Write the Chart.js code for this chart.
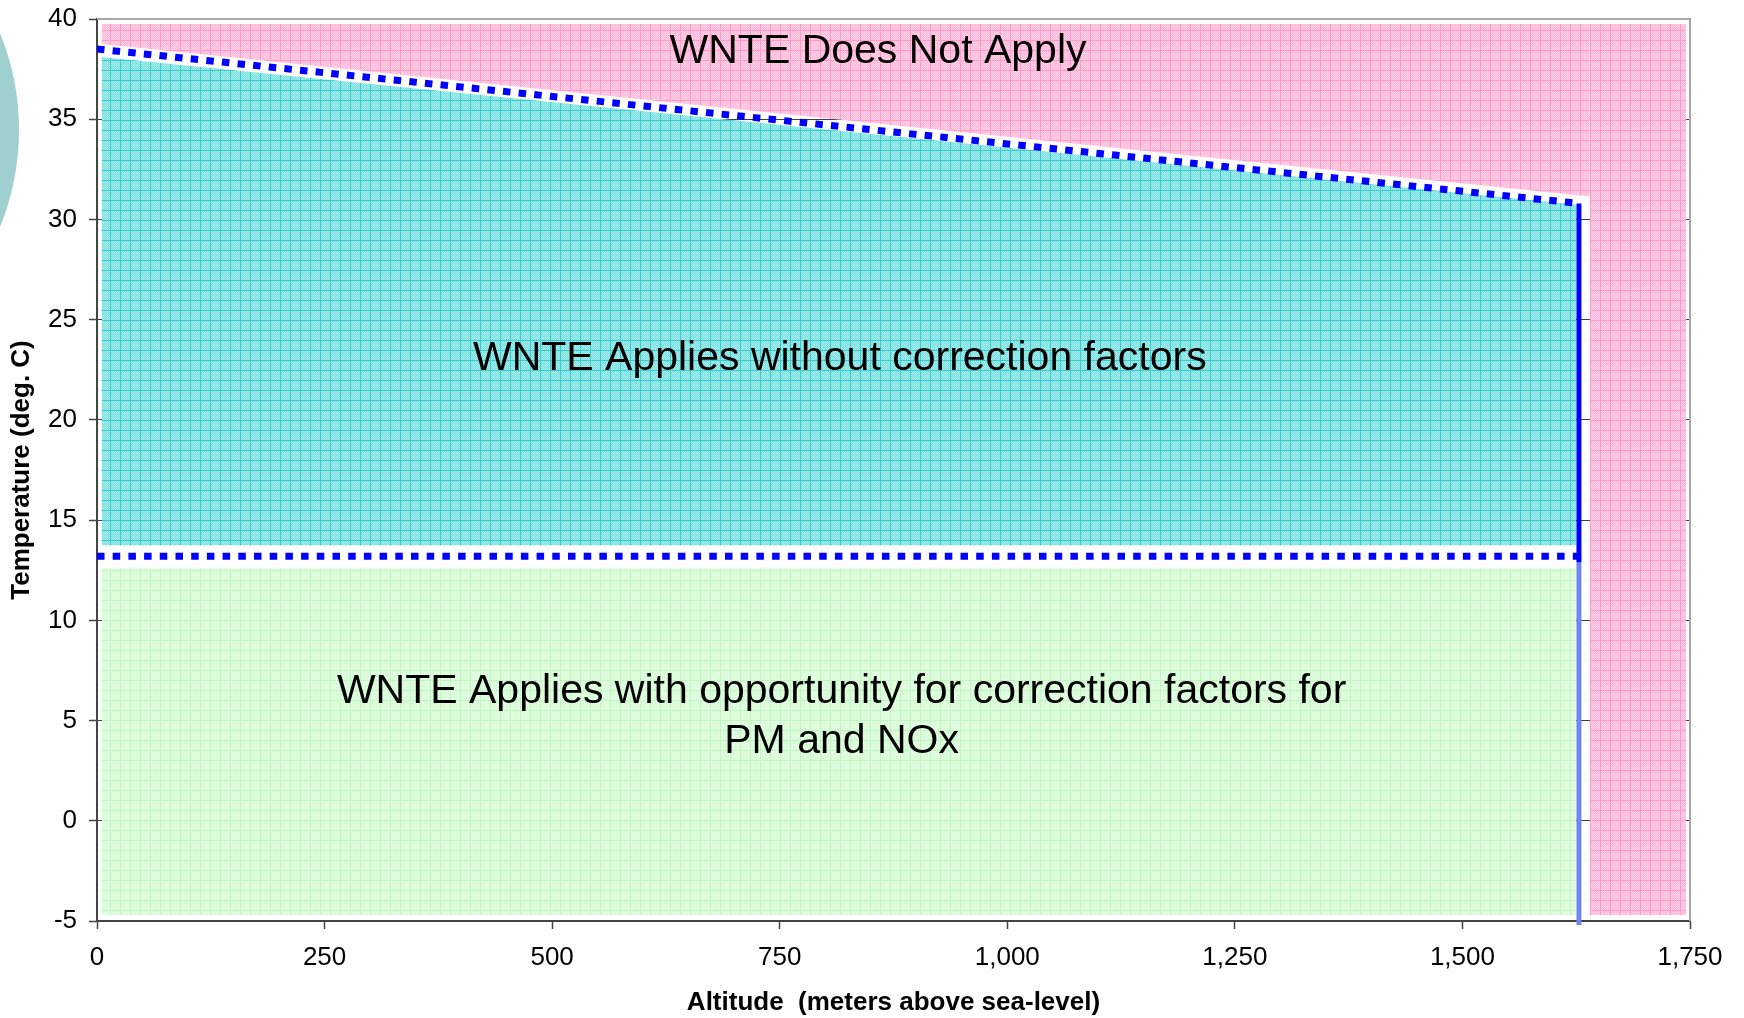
<!DOCTYPE html>
<html><head><meta charset="utf-8">
<script src="https://cdn.jsdelivr.net/npm/chart.js@4"></script>
<style>html,body{margin:0;padding:0;background:#fff;}canvas{display:block;}</style>
</head><body>
<canvas id="c" width="1744" height="1018"></canvas>
<script>
// ---- tick labels ----
const xTickValues = [0, 250, 500, 750, 1000, 1250, 1500, 1750];
const xTickLabels = ['0', '250', '500', '750', '1,000', '1,250', '1,500', '1,750'];
const yTickValues = [-5, 0, 5, 10, 15, 20, 25, 30, 35, 40];
const yTickLabels = ['-5', '0', '5', '10', '15', '20', '25', '30', '35', '40'];

// ---- boundary lines (altitude m, temperature deg C) ----
const boundaryAltitude = [0, 1628];
const upperTempLimit = [38.5, 30.8];
const lowerTempLimit = [13.2, 13.2];
const altitudeLimit = [1628, 1628];
const altitudeLimitUpperTemp = [30.8, 12.9];
const altitudeLimitLowerTemp = [12.9, -5.2];

// ---- shaded regions ----
const pinkUpperAlt = [5, 1640];
const pinkUpperBottom = [38.75, 31.15];
const pinkTopTemp = 39.75;
const pinkRightAlt = [1640, 1746];
const pinkRightTop = [39.75, 39.75];
const regionBottomTemp = -4.7;
const tealAlt = [5, 1625];
const tealTopTemp = [38.1, 30.75];
const tealBottomTemp = 13.75;
const greenAlt = [5, 1625];
const greenTopTemp = [12.6, 12.6];

const regionLabels = [
  { lines: ['WNTE Does Not Apply'], x: 858, y: 38.35 },
  { lines: ['WNTE Applies without correction factors'], x: 816, y: 23.03 },
  { lines: ['WNTE Applies with opportunity for correction factors for', 'PM and NOx'], x: 818, y: 5.18 }
];

const pts = (xs, ys) => xs.map((x, i) => ({ x: x, y: ys[i] }));

function makePattern(base, speck, line) {
  const c = document.createElement('canvas');
  c.width = 10; c.height = 10;
  const g = c.getContext('2d');
  g.fillStyle = base; g.fillRect(0, 0, 10, 10);
  g.fillStyle = speck;
  for (let i = 1; i < 10; i++) for (let j = 1; j < 10; j++) if ((i + j) % 2 === 0) g.fillRect(i, j, 1, 1);
  g.fillStyle = line;
  g.fillRect(0, 0, 10, 1); g.fillRect(0, 0, 1, 10);
  return g.createPattern(c, 'repeat');
}
const pinkPat = makePattern('#ffb8da', '#ffd2e8', '#ff9ccc');
const tealPat = makePattern('#7cdfdf', '#a6eeee', '#38cccc');
const greenPat = makePattern('#d6fcd6', '#e4ffe4', '#c4f4c4');

const FONT = "'Liberation Sans', Arial, Helvetica, sans-serif";

const fillDs = (data, bg, fill) => ({
  data: data, backgroundColor: bg, borderWidth: 0, borderColor: 'rgba(0,0,0,0)',
  pointRadius: 0, fill: fill, order: 10, tension: 0
});

const decorPlugin = {
  id: 'decor',
  beforeDraw(chart) {
    const ctx = chart.ctx;
    ctx.save();
    ctx.fillStyle = '#9fcfcf';
    ctx.beginPath();
    ctx.arc(-238, 130, 257, 0, Math.PI * 2);
    ctx.fill();
    ctx.restore();
  },
  afterDatasetsDraw(chart) {
    const ctx = chart.ctx, xs = chart.scales.x, ys = chart.scales.y;
    ctx.save();
    ctx.fillStyle = '#000';
    ctx.font = '41px ' + FONT;
    ctx.textAlign = 'center';
    ctx.textBaseline = 'middle';
    regionLabels.forEach(l => {
      const px = xs.getPixelForValue(l.x);
      const py = ys.getPixelForValue(l.y);
      const lh = 50;
      const start = py - (l.lines.length - 1) * lh / 2;
      l.lines.forEach((t, i) => ctx.fillText(t, px, start + i * lh));
    });
    ctx.restore();
  },
  afterDraw(chart) {
    const ctx = chart.ctx, a = chart.chartArea;
    ctx.save();
    ctx.strokeStyle = '#a6a6a6';
    ctx.lineWidth = 2;
    ctx.beginPath();
    ctx.moveTo(a.left, a.top); ctx.lineTo(a.right, a.top); ctx.lineTo(a.right, a.bottom);
    ctx.stroke();
    ctx.restore();
  }
};

new Chart(document.getElementById('c'), {
  type: 'line',
  data: {
    datasets: [
      // boundary lines
      { data: pts(boundaryAltitude, upperTempLimit), borderColor: '#0000ff', borderWidth: 7,
        borderDash: [7.5, 8.2], borderCapStyle: 'butt', pointRadius: 0, fill: false, order: 1 },
      { data: pts(boundaryAltitude, lowerTempLimit), borderColor: '#0000ff', borderWidth: 7,
        borderDash: [7.5, 8.2], borderCapStyle: 'butt', pointRadius: 0, fill: false, order: 1 },
      { data: pts(altitudeLimit, altitudeLimitUpperTemp), borderColor: '#0000ff', borderWidth: 5,
        pointRadius: 0, fill: false, order: 0, clip: false },
      { data: pts(altitudeLimit, altitudeLimitLowerTemp), borderColor: '#6f86f0', borderWidth: 5,
        pointRadius: 0, fill: false, order: 0, clip: false },
      // regions
      fillDs(pts(pinkUpperAlt, pinkUpperBottom), pinkPat, { value: pinkTopTemp }),
      fillDs(pts(pinkRightAlt, pinkRightTop), pinkPat, { value: regionBottomTemp }),
      fillDs(pts(tealAlt, tealTopTemp), tealPat, { value: tealBottomTemp }),
      fillDs(pts(greenAlt, greenTopTemp), greenPat, { value: regionBottomTemp })
    ]
  },
  options: {
    responsive: false,
    animation: false,
    devicePixelRatio: 1,
    layout: { padding: { top: 19, right: 54, left: 0, bottom: 0 } },
    plugins: { legend: { display: false }, tooltip: { enabled: false } },
    scales: {
      x: {
        type: 'linear', min: 0, max: 1750,
        afterBuildTicks: s => { s.ticks = xTickValues.map(v => ({ value: v })); },
        afterFit: s => { s.height = 97; s.paddingLeft = 0; s.paddingRight = 0; },
        ticks: {
          callback: (v) => xTickLabels[xTickValues.indexOf(v)],
          font: { family: FONT, size: 26 }, color: '#000', padding: 13, maxRotation: 0, autoSkip: false
        },
        grid: { drawOnChartArea: false, drawTicks: true, tickLength: 8, tickColor: '#444', tickWidth: 1.5 },
        border: { color: '#444', width: 2 },
        title: { display: true, text: 'Altitude  (meters above sea-level)', color: '#000',
          font: { family: FONT, size: 26, weight: 'bold' }, padding: { top: 0, bottom: 0 } }
      },
      y: {
        type: 'linear', min: -5, max: 40, z: 1,
        afterBuildTicks: s => { s.ticks = yTickValues.map(v => ({ value: v })); },
        afterFit: s => { s.width = 97; s.paddingTop = 0; s.paddingBottom = 0; },
        ticks: {
          callback: (v) => yTickLabels[yTickValues.indexOf(v)],
          font: { family: FONT, size: 26 }, color: '#000', padding: 12, autoSkip: false
        },
        grid: {
          color: c => (c.tick && (c.tick.value === 40 || c.tick.value === -5)) ? 'rgba(0,0,0,0)' : '#404040',
          lineWidth: 1, borderDash: [2, 1], tickLength: 8, tickColor: '#444', tickWidth: 1.5, drawTicks: true
        },
        border: { color: '#444', width: 2 },
        title: { display: true, text: 'Temperature (deg. C)', color: '#000',
          font: { family: FONT, size: 26, weight: 'bold' }, padding: { top: 6, bottom: 0 } }
      }
    }
  },
  plugins: [decorPlugin]
});
</script>
</body></html>
